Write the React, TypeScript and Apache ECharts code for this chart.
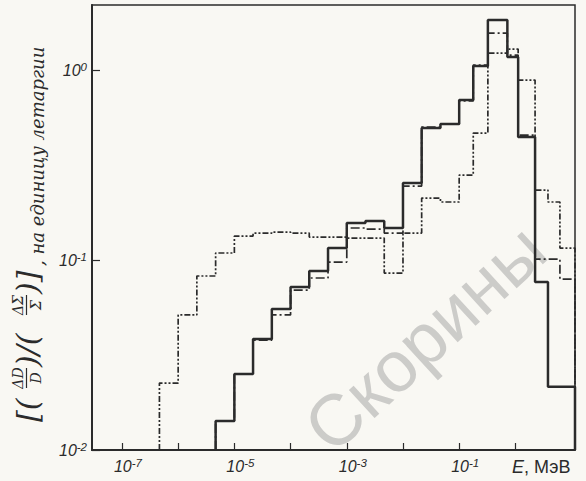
import React, { useEffect, useRef } from "react";
import * as echarts from "echarts";

// Bin edges of the histograms, MeV
const binEdgesMeV = [
  4.64e-7, 1e-6, 2.15e-6, 4.64e-6, 1e-5, 2.15e-5, 4.64e-5, 1e-4, 2.15e-4, 4.64e-4,
  1e-3, 2.15e-3, 4.64e-3, 0.01, 0.0215, 0.0464, 0.1, 0.178, 0.324, 0.72, 1.12, 2.24,
  3.8, 6.2, 11.5,
];

// Per-bin values (null = no curve in that bin)
const solidValues = [
  null, null, null, 0.0142, 0.0251, 0.0384, 0.0552, 0.0721, 0.0875, 0.1156, 0.1566,
  0.1604, 0.1474, 0.2543, 0.4955, 0.5197, 0.6952, 1.05, 1.833, 1.171, 0.4437, 0.0766,
  0.0215, 0.0215,
];
const dashDotValues = [
  null, null, null, 0.0142, 0.0251, 0.0379, 0.0514, 0.0695, 0.0804, 0.0976, 0.1474,
  0.1456, 0.1387, 0.2451, 0.5012, 0.5197, 0.6871, 1.062, 1.566, 1.199, 0.4549, 0.1012,
  0.1012, 0.0794,
];
const dottedValues = [
  0.0225, 0.0514, 0.0824, 0.1089, 0.1337, 0.1387, 0.1404, 0.1387, 0.1321, 0.1321,
  0.1305, 0.1305, 0.0854, 0.1387, 0.212, 0.202, 0.2801, 0.466, 1.228, 1.29, 0.8855,
  0.2336, 0.202, 0.1156,
];

const xTickExponents = [-7, -6, -5, -4, -3, -2, -1, 0];
const xLabelExponents = [-7, -5, -3, -1];
const yTickExponents = [-2, -1, 0];

const xAxisMinMeV = 2.93e-8;
const yAxisMinValue = 0.01;
const yAxisMaxValue = 2.2;

const INK = "#2b2b2b";
const PAPER = "#f9f8f3";

function histogramPoints(values: (number | null)[]) {
  const pts: number[][] = [];
  const floor = Math.log10(yAxisMinValue);
  let last = -1;
  values.forEach((v, i) => {
    if (v == null) return;
    if (last < 0) pts.push([Math.log10(binEdgesMeV[i]), floor]);
    pts.push([Math.log10(binEdgesMeV[i]), Math.log10(v)]);
    last = i;
  });
  const endX = Math.log10(binEdgesMeV[last + 1]);
  pts.push([endX, Math.log10(values[last] as number)]);
  pts.push([endX, floor]);
  return pts;
}

const powerLabel = (v: number) => `{b|10}{s|${Math.round(v)}}`;

export default function App() {
  const ref = useRef<HTMLDivElement>(null);

  useEffect(() => {
    if (!ref.current) return;
    const chart = echarts.init(ref.current, null, { renderer: "svg" });
    const labelFont = "'Liberation Sans', sans-serif";
    const rich = {
      b: { fontSize: 16, fontStyle: "italic", fontFamily: labelFont, color: INK, lineHeight: 19 },
      s: { fontSize: 11.5, fontStyle: "italic", fontFamily: labelFont, color: INK, verticalAlign: "top", lineHeight: 11 },
    };
    const serifItalic = "'DejaVu Serif', 'Liberation Serif', serif";

    const frac = (cx: number, num: string, den: string, w: number) => [
      { type: "text", x: cx, y: -19, style: { text: num, fontSize: 14, fontStyle: "italic", fontFamily: serifItalic, fill: INK, align: "center", verticalAlign: "middle" } },
      { type: "line", shape: { x1: cx - w / 2, y1: -10.5, x2: cx + w / 2, y2: -10.5 }, style: { stroke: INK, lineWidth: 1.2 } },
      { type: "text", x: cx, y: -1, style: { text: den, fontSize: 14, fontStyle: "italic", fontFamily: serifItalic, fill: INK, align: "center", verticalAlign: "middle" } },
    ];
    const big = (x: number, t: string) => ({
      type: "text", x, y: -10,
      style: { text: t, fontSize: 30, fontFamily: serifItalic, fontStyle: "italic", fill: INK, align: "left", verticalAlign: "middle" },
    });

    chart.setOption({
      animation: false,
      backgroundColor: PAPER,
      grid: {
        left: 92, right: 11, top: 5, bottom: 31,
        show: true, borderColor: INK, borderWidth: 1.5, backgroundColor: "transparent",
        outerBoundsMode: "none",
      },
      xAxis: {
        type: "value",
        min: Math.log10(xAxisMinMeV),
        max: Math.log10(binEdgesMeV[binEdgesMeV.length - 1]),
        axisLine: { show: true, onZero: false, lineStyle: { color: INK, width: 2 } },
        axisTick: { show: true, inside: true, length: 7, customValues: xTickExponents, lineStyle: { color: INK, width: 1.2 } },
        axisLabel: {
          customValues: xLabelExponents, formatter: powerLabel, rich, margin: 7,
          padding: [0, 0, 0, 12], hideOverlap: false,
        },
        splitLine: { show: false },
      },
      yAxis: {
        type: "value",
        min: Math.log10(yAxisMinValue),
        max: Math.log10(yAxisMaxValue),
        axisLine: { show: true, onZero: false, lineStyle: { color: INK, width: 2 } },
        axisTick: { show: true, inside: true, length: 8, customValues: yTickExponents, lineStyle: { color: INK, width: 1.2 } },
        axisLabel: { customValues: yTickExponents, formatter: powerLabel, rich, margin: 5, hideOverlap: false },
        splitLine: { show: false },
      },
      graphic: [
        {
          type: "text", x: 425, y: 338, rotation: 0.74, z: -10,
          style: {
            text: "Скорины", fontSize: 72, fontFamily: labelFont,
            fill: "rgba(160,160,160,0.5)", align: "center", verticalAlign: "middle",
          },
        },
        {
          type: "group", x: 37, y: 232, rotation: Math.PI / 2,
          children: [
            big(-190, "[("),
            ...frac(-146, "ΔD", "D", 20),
            big(-135, ")/("),
            ...frac(-73, "ΔΣ", "Σ", 20),
            big(-62, ")]"),
            {
              type: "text", x: -34, y: 0,
              style: {
                text: ", на единицу летаргии", fontSize: 18, fontStyle: "italic",
                fontFamily: serifItalic, fill: INK, align: "left", verticalAlign: "middle",
              },
            },
          ],
        },
        {
          type: "text", x: 512, y: 467,
          style: {
            text: "{i|E}{n|, МэВ}",
            rich: {
              i: { fontSize: 18, fontStyle: "italic", fontFamily: labelFont, fill: INK },
              n: { fontSize: 18, fontFamily: labelFont, fill: INK },
            },
            align: "left", verticalAlign: "middle",
          },
        },
      ],
      series: [
        {
          type: "line", step: "end", showSymbol: false, silent: true, z: 3,
          data: histogramPoints(dottedValues),
          lineStyle: { color: INK, width: 1.7, type: [6, 2, 2, 2, 2, 2] },
        },
        {
          type: "line", step: "end", showSymbol: false, silent: true, z: 4,
          data: histogramPoints(dashDotValues),
          lineStyle: { color: INK, width: 1.7, type: [9, 3, 2, 3] },
        },
        {
          type: "line", step: "end", showSymbol: false, silent: true, z: 5,
          data: histogramPoints(solidValues),
          lineStyle: { color: INK, width: 2.5, type: "solid" },
        },
      ],
    });
    return () => chart.dispose();
  }, []);

  return (
    <div
      ref={ref}
      style={{ position: "fixed", left: 0, top: 0, width: 586, height: 481 }}
    />
  );
}
